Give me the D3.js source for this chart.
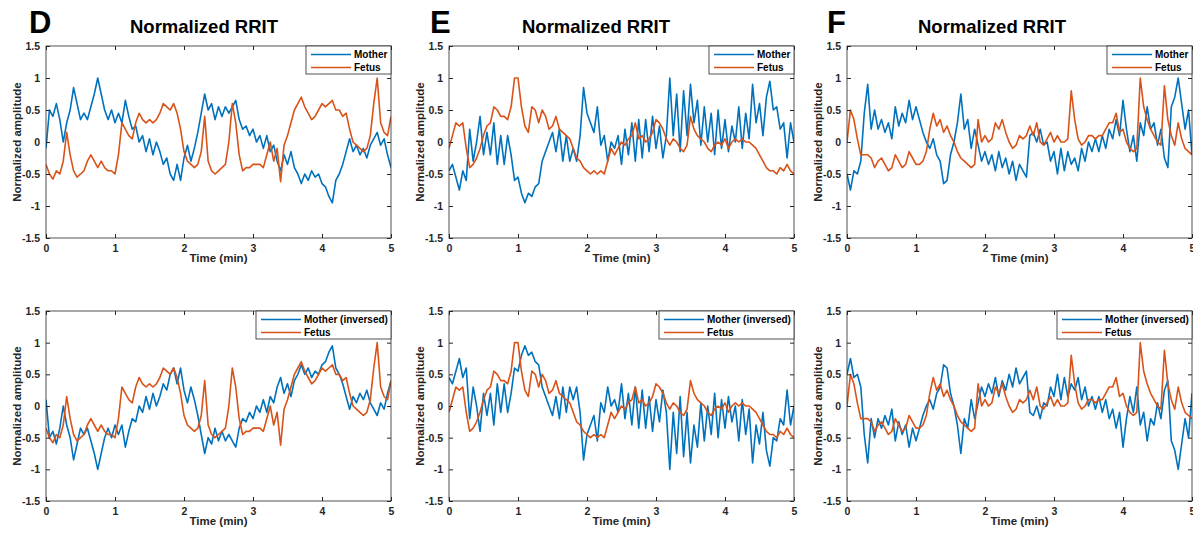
<!DOCTYPE html>
<html>
<head>
<meta charset="utf-8">
<script src="https://cdn.jsdelivr.net/npm/d3@7"></script>
<style>
  body { margin: 0; background: #fff; }
  svg { display: block; font-family: Arial, "Liberation Sans", sans-serif; }
</style>
</head>
<body>
<script>
const W = 1193;
const H = 533;

// sampled every 0.05 min, 0..5 min
const step = 0.05;
const xTicks = [0, 1, 2, 3, 4, 5];
const yTicks = [-1.5, -1, -0.5, 0, 0.5, 1, 1.5];
const panelLetters = ["D", "E", "F"];
const seriesNames = ["Mother", "Fetus"];
const seriesNamesInv = ["Mother (inversed)", "Fetus"];

const motherD = [
  -0.1, 0.5, 0.4, 0.6, 0.35, 0.0, 0.3, 0.5, 0.85, 0.6,
  0.35, 0.45, 0.35, 0.55, 0.75, 1.0, 0.75, 0.5, 0.35, 0.5,
  0.3, 0.45, 0.3, 0.65, 0.4, 0.2, 0.25, 0.0, 0.1, -0.15,
  0.05, -0.2, 0.0, -0.15, -0.35, -0.25, -0.5, -0.6, -0.35, -0.6,
  -0.25, -0.05, -0.3, -0.1, 0.15, 0.45, 0.75, 0.5, 0.6, 0.35,
  0.55, 0.4, 0.55, 0.45, 0.55, 0.65, 0.35, 0.2, 0.25, 0.1,
  0.2, 0.0, 0.1, -0.1, 0.1, -0.15, -0.05, -0.3, -0.45, -0.2,
  -0.35, -0.15, -0.4, -0.5, -0.65, -0.5, -0.6, -0.45, -0.55, -0.5,
  -0.65, -0.7, -0.85, -0.95, -0.6, -0.5, -0.35, -0.15, 0.05, -0.15,
  -0.05, -0.2, -0.1, -0.25, -0.05, 0.05, 0.15, -0.05, 0.05, -0.2,
  -0.4
];
const fetusD = [
  -0.35, -0.5, -0.58, -0.45, -0.5, -0.3, 0.15, -0.2, -0.45, -0.55,
  -0.5, -0.45, -0.3, -0.2, -0.3, -0.4, -0.3, -0.4, -0.45, -0.45,
  -0.5, -0.2, 0.3, 0.2, 0.1, 0.05, 0.3, 0.45, 0.35, 0.3,
  0.35, 0.3, 0.35, 0.45, 0.6, 0.55, 0.5, 0.6, 0.45, 0.2,
  -0.15, -0.3, -0.35, -0.4, -0.35, -0.15, 0.4, -0.3, -0.45, -0.5,
  -0.45, -0.4, -0.35, 0.0, 0.6, 0.3, -0.2, -0.45, -0.4, -0.4,
  -0.35, -0.35, -0.35, -0.4, -0.2, 0.0, -0.3, -0.1, -0.62, -0.05,
  0.1, 0.3, 0.5, 0.6, 0.7, 0.55, 0.45, 0.35, 0.4, 0.5,
  0.6, 0.55, 0.6, 0.65, 0.5, 0.5, 0.4, 0.45, 0.2, 0.0,
  -0.05, -0.1, -0.15, -0.1, 0.1, 0.6, 1.0, 0.3, 0.15, 0.1,
  0.4
];
const motherE = [
  -0.45, -0.35, -0.55, -0.75, -0.45, -0.6, 0.2, -0.3, 0.0, 0.4,
  -0.2, 0.15, -0.2, 0.3, -0.35, 0.1, -0.35, 0.1, -0.2, -0.6,
  -0.55, -0.8, -0.95, -0.8, -0.85, -0.7, -0.65, -0.3, -0.15, 0.0,
  0.15, -0.15, 0.2, -0.3, 0.1, -0.3, -0.1, -0.3, 0.1, 0.85,
  0.45, 0.3, 0.15, 0.55, -0.05, 0.1, -0.3, 0.0, -0.1, 0.1,
  -0.35, 0.2, -0.2, 0.3, -0.3, 0.35, -0.25, 0.35, -0.15, 0.4,
  -0.1, 0.25, -0.25, 0.1, 1.0, 0.1, 0.75, -0.15, 0.8, 0.1,
  0.9, 0.3, 0.65, -0.05, 0.55, 0.0, 0.45, -0.2, 0.5, -0.1,
  0.35, -0.15, 0.25, 0.0, 0.55, -0.1, 0.45, 0.05, 0.9, 0.3,
  0.6, 0.1, 0.7, 0.95, 0.5, 0.55, 0.2, 0.3, -0.25, 0.3,
  0.0
];
const fetusE = [
  -0.1, 0.1, 0.3, 0.25, 0.3, -0.1, -0.4, -0.35, -0.25, -0.1,
  0.1, 0.25, 0.3, 0.55, 0.5, 0.4, 0.4, 0.35, 0.55, 1.0,
  1.0, 0.55, 0.25, 0.15, 0.55, 0.5, 0.3, 0.5, 0.4, 0.2,
  0.25, 0.4, 0.2, 0.15, 0.1, 0.05, -0.1, -0.25, -0.3, -0.4,
  -0.45, -0.5, -0.45, -0.5, -0.45, -0.5, -0.3, -0.1, -0.2, -0.1,
  0.0, -0.05, 0.05, 0.1, 0.3, 0.05, 0.1, 0.0, 0.05, 0.15,
  0.35, 0.3, 0.2, 0.05, -0.05, 0.05, 0.0, -0.1, -0.15, -0.05,
  0.4, 0.2, 0.1, 0.05, 0.0, -0.1, -0.15, -0.05, 0.0, -0.05,
  0.05, -0.1, 0.0, 0.05, 0.0, 0.05, 0.0, 0.0, -0.05, -0.1,
  -0.2, -0.3, -0.4, -0.45, -0.45, -0.5, -0.4, -0.45, -0.35, -0.45,
  -0.5
];
const motherF = [
  -0.5, -0.75, -0.45, -0.5, -0.3, 0.45, 0.9, 0.2, 0.5, 0.2,
  0.35, 0.15, 0.3, 0.05, 0.55, 0.25, 0.45, 0.3, 0.65, 0.35,
  0.55, 0.35, 0.15, 0.0, -0.1, 0.05, -0.2, -0.3, -0.65, -0.6,
  -0.2, 0.0, 0.3, 0.75, 0.2, 0.35, -0.1, 0.2, -0.05, -0.3,
  -0.15, -0.35, -0.2, -0.45, -0.15, -0.4, -0.25, -0.5, -0.3, -0.6,
  -0.35, -0.45, -0.55, 0.1, 0.15, 0.0, 0.2, -0.05, 0.0, -0.3,
  -0.15, -0.5, -0.1, -0.45, -0.15, -0.35, -0.25, -0.45, -0.1, -0.3,
  0.0, -0.15, 0.05, -0.15, 0.1, -0.1, 0.2, 0.05, 0.35, 0.1,
  0.65, 0.2, -0.15, 0.1, -0.3, 0.3, 0.1, 0.55, 0.2, 0.3,
  -0.05, 0.2, -0.25, -0.4, 0.55, 0.7, 1.0, 0.6, 0.2, 0.5,
  -0.2
];
const fetusF = [
  0.0, 0.5, 0.35, 0.05, -0.2, -0.2, -0.2, -0.25, -0.4, -0.3,
  -0.25, -0.35, -0.45, -0.4, -0.2, -0.3, -0.4, -0.35, -0.15, -0.25,
  -0.35, -0.35, -0.3, -0.15, 0.2, 0.45, 0.25, 0.35, 0.15, 0.25,
  0.1, 0.0, -0.15, -0.25, -0.3, -0.35, -0.4, -0.35, 0.35, 0.0,
  0.1, 0.0, 0.05, 0.3, 0.2, 0.35, 0.15, 0.0, -0.1, -0.05,
  0.1, 0.05, 0.1, 0.25, 0.1, 0.3, 0.0, -0.05, 0.05, 0.15,
  0.0, 0.1, 0.0, 0.0, 0.05, 0.8, 0.35, 0.05, -0.05, 0.0,
  0.1, 0.1, 0.05, 0.1, 0.1, 0.2, 0.3, 0.3, 0.45, 0.15,
  0.2, 0.0, -0.1, -0.15, -0.1, 1.0, 0.55, 0.35, 0.2, 0.1,
  0.0, -0.05, 0.88, 0.35, 0.1, -0.05, 0.3, 0.05, -0.1, -0.15,
  -0.2
];

const mothers = [motherD, motherE, motherF];
const fetuses = [fetusD, fetusE, fetusF];

const colMother = "#0072BD";
const colFetus = "#D95319";
const axisCol = "#262626";

// layout
const colLeft = [46, 449, 847];
const plotW = 345;
const rowTop = [46, 311];
const plotH = [192, 190];
const titleX = [204, 596, 992];
const letterX = [29, 430, 827];

const svg = d3.select("body").append("svg").attr("width", W).attr("height", H);

const defs = svg.append("defs");

function drawPanel(c, r) {
  const left = colLeft[c], top = rowTop[r], ph = plotH[r];
  const x = d3.scaleLinear().domain([0, 5]).range([0, plotW]);
  const y = d3.scaleLinear().domain([-1.5, 1.5]).range([ph, 0]);
  const g = svg.append("g").attr("transform", `translate(${left},${top})`);
  const clipId = `clip-${c}-${r}`;
  defs.append("clipPath").attr("id", clipId)
    .append("rect").attr("width", plotW).attr("height", ph);

  const mother = r === 0 ? mothers[c] : mothers[c].map(v => -v);
  const fetus = fetuses[c];
  const line = d3.line().x((d, i) => x(i * step)).y(d => y(d));

  const lines = g.append("g").attr("clip-path", `url(#${clipId})`);
  lines.append("path").datum(mother).attr("d", line)
    .attr("fill", "none").attr("stroke", colMother).attr("stroke-width", 1.6)
    .attr("stroke-linejoin", "round");
  lines.append("path").datum(fetus).attr("d", line)
    .attr("fill", "none").attr("stroke", colFetus).attr("stroke-width", 1.6)
    .attr("stroke-linejoin", "round");

  // axes with inward ticks (MATLAB style box)
  const fmt = d => String(d);
  const styleAxis = (sel) => {
    sel.select(".domain").remove();
    sel.selectAll("line").attr("stroke", axisCol);
    sel.selectAll("text").attr("fill", axisCol).attr("font-size", 10.5)
      .attr("font-weight", "bold").attr("font-family", "Arial, 'Liberation Sans', sans-serif");
  };
  g.append("g").attr("transform", `translate(0,${ph})`)
    .call(d3.axisBottom(x).tickValues(xTicks).tickFormat(fmt).tickSizeInner(-4).tickSizeOuter(0).tickPadding(7))
    .call(styleAxis);
  g.append("g")
    .call(d3.axisLeft(y).tickValues(yTicks).tickFormat(fmt).tickSizeInner(-4).tickSizeOuter(0).tickPadding(6))
    .call(styleAxis);
  g.append("g")
    .call(d3.axisTop(x).tickValues(xTicks).tickFormat("").tickSizeInner(-4).tickSizeOuter(0))
    .call(styleAxis);
  g.append("g").attr("transform", `translate(${plotW},0)`)
    .call(d3.axisRight(y).tickValues(yTicks).tickFormat("").tickSizeInner(-4).tickSizeOuter(0))
    .call(styleAxis);

  g.append("rect").attr("width", plotW).attr("height", ph)
    .attr("fill", "none").attr("stroke", axisCol).attr("stroke-width", 0.8);

  // axis labels
  g.append("text").attr("x", plotW / 2).attr("y", ph + 24)
    .attr("text-anchor", "middle").attr("font-size", 11.5).attr("font-weight", "bold")
    .attr("fill", axisCol).text("Time (min)");
  g.append("text")
    .attr("transform", `translate(-25,${ph / 2}) rotate(-90)`)
    .attr("text-anchor", "middle").attr("font-size", 11.5).attr("font-weight", "bold")
    .attr("fill", axisCol).text("Normalized amplitude");

  // legend
  const names = r === 0 ? seriesNames : seriesNamesInv;
  const lw = r === 0 ? 85 : 135;
  const lg = g.append("g").attr("transform", `translate(${plotW - lw},0)`);
  lg.append("rect").attr("width", lw).attr("height", 28)
    .attr("fill", "#fff").attr("stroke", axisCol).attr("stroke-width", 0.8);
  [colMother, colFetus].forEach((col, i) => {
    const ly = 8.5 + i * 13;
    lg.append("line").attr("x1", 5).attr("x2", 45).attr("y1", ly).attr("y2", ly)
      .attr("stroke", col).attr("stroke-width", 1.6);
    lg.append("text").attr("x", 48).attr("y", ly + 3.5)
      .attr("font-size", 10).attr("font-weight", "bold").attr("fill", "#000")
      .text(names[i]);
  });
}

for (let c = 0; c < 3; c++) {
  drawPanel(c, 0);
  drawPanel(c, 1);
  svg.append("text").attr("x", letterX[c]).attr("y", 33)
    .attr("font-size", 31).attr("font-weight", "bold").attr("fill", "#000")
    .text(panelLetters[c]);
  svg.append("text").attr("x", titleX[c]).attr("y", 33)
    .attr("text-anchor", "middle").attr("font-size", 18.5).attr("font-weight", "bold")
    .attr("fill", "#000").text("Normalized RRIT");
}
</script>
</body>
</html>
